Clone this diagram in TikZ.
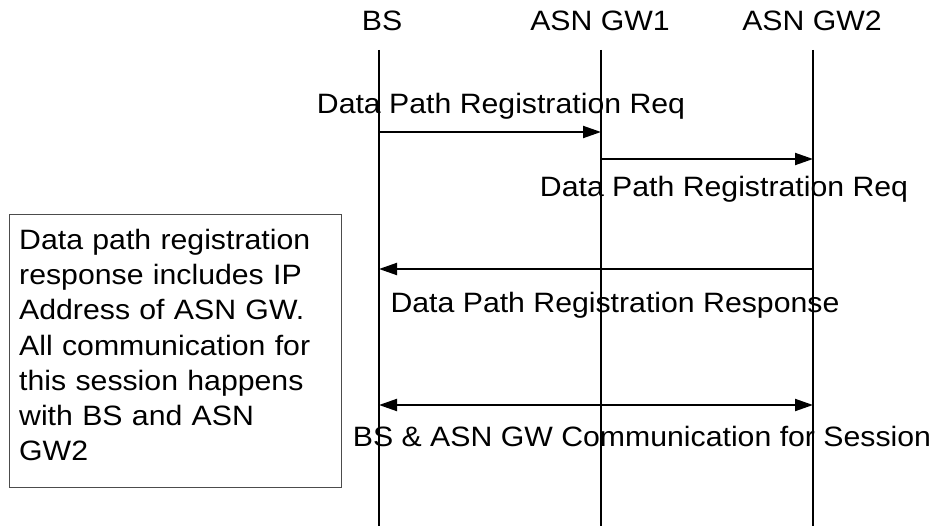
\documentclass[tikz,border=0pt]{standalone}
\usepackage{fontspec}
\setmainfont{Liberation Sans}[FakeStretch=1.08]
\usetikzlibrary{arrows.meta, positioning}

\tikzset{
  lifeline/.style={line width=2pt},
  msg/.style={line width=2pt, -{Triangle[length=18pt, width=12pt]}},
  duplex/.style={line width=2pt, {Triangle[length=18pt, width=12pt]}-{Triangle[length=18pt, width=12pt]}},
  title/.style={anchor=base},
  msglabel/.style={anchor=base},
  notebox/.style={draw=black!70, line width=1.3pt, minimum width=332pt, minimum height=273pt, inner sep=0pt},
  notetext/.style={anchor=north west, inner sep=0pt, text width=320pt, align=left}
}

\begin{document}
\begin{tikzpicture}[x=1pt, y=-1pt, font=\fontsize{28pt}{35.2pt}\selectfont]
      \useasboundingbox (0, 0) rectangle (934, 527);

      % entities
      \node[title] (bsname) at (382, 31) {BS};
      \node[title] (gw1name) at (600, 31) {ASN GW1};
      \node[title] (gw2name) at (812, 31) {ASN GW2};

      \coordinate (bs) at (379, 50);
      \coordinate (gw1) at (601, 50);
      \coordinate (gw2) at (813, 50);
      \coordinate (bsend) at (379, 526);
      \coordinate (gw1end) at (601, 526);
      \coordinate (gw2end) at (813, 526);

      \draw[lifeline] (bs) -- (bsend);
      \draw[lifeline] (gw1) -- (gw1end);
      \draw[lifeline] (gw2) -- (gw2end);

      % message rows
      \coordinate (row1) at (0, 132);
      \coordinate (row2) at (0, 159);
      \coordinate (row3) at (0, 269);
      \coordinate (row4) at (0, 405);

      \draw[msg] (bs |- row1) -- (gw1 |- row1);
      \draw[msg] (gw1 |- row2) -- (gw2 |- row2);
      \draw[msg] (gw2 |- row3) -- (bs |- row3);
      \draw[duplex] (bs |- row4) -- (gw2 |- row4);

      \node[msglabel] (req1) at (501, 113) {Data Path Registration Req};
      \node[msglabel] (req2) at (724, 196) {Data Path Registration Req};
      \node[msglabel] (resp) at (615, 312) {Data Path Registration Response};
      \node[msglabel] (comm) at (642, 446) {BS \& ASN GW Communication for Session};

      % note
      \node[notebox, anchor=north west] (note) at (9, 214) {};
      \node[notetext] (notetxt) at (19, 229) {Data path registration\\
        response includes IP\\
        Address of ASN GW.\\
        All communication for\\
        this session happens\\
        with BS and ASN\\
        GW2};

    \end{tikzpicture}
\end{document}
